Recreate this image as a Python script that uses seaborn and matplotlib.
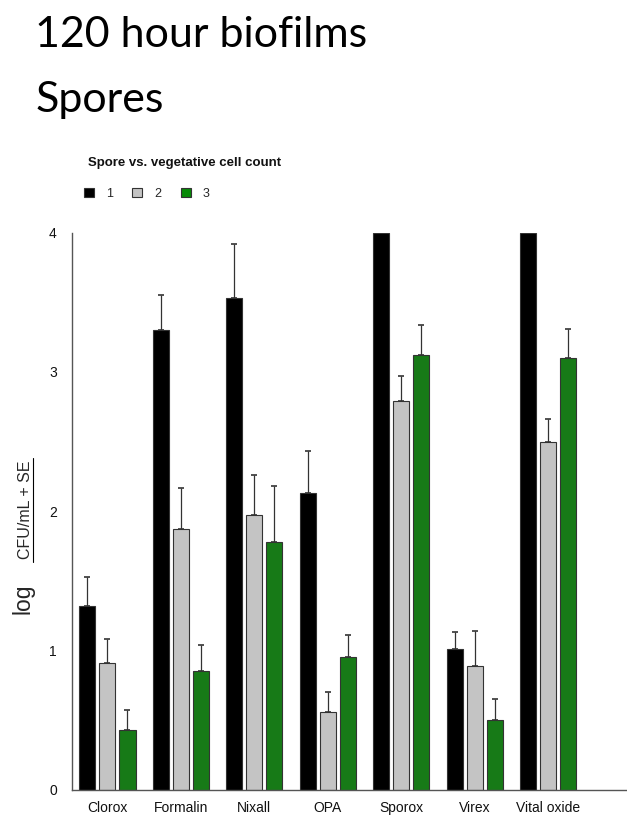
import pandas as pd
import matplotlib
matplotlib.use("Agg")
import matplotlib.pyplot as plt
import seaborn as sns
from matplotlib.patches import Patch
from matplotlib.lines import Line2D

# Values (log CFU/mL)
products = ['Clorox', 'Formalin', 'Nixall', 'OPA', 'Sporox', 'Virex', 'Vital oxide']
series = ['1', '2', '3']
means_1 = [1.32, 3.30, 3.53, 2.13, 4.00, 1.01, 4.00]
means_2 = [0.91, 1.87, 1.97, 0.56, 2.79, 0.89, 2.50]
means_3 = [0.43, 0.85, 1.78, 0.955, 3.12, 0.50, 3.10]
se_1 = [0.21, 0.25, 0.39, 0.30, 0.0, 0.12, 0.0]
se_2 = [0.17, 0.30, 0.29, 0.14, 0.18, 0.25, 0.16]
se_3 = [0.14, 0.19, 0.40, 0.16, 0.22, 0.15, 0.21]
colors = ['#000000', '#c4c4c4', '#078a07']

means = [means_1, means_2, means_3]
errs = [se_1, se_2, se_3]

rows = []
for s, vals in zip(series, means):
    for p, v in zip(products, vals):
        rows.append({'product': p, 'series': s, 'value': v})
df = pd.DataFrame(rows)

sns.set_style('white')
plt.rcParams['font.family'] = ['Liberation Sans', 'DejaVu Sans']

fig = plt.figure(figsize=(6.27, 8.16), dpi=100)
ax = fig.add_axes([0.115, 0.032, 0.885, 0.683])

sns.barplot(data=df, x='product', y='value', hue='series', palette=colors,
            width=0.82, gap=0.2, edgecolor='#333333', linewidth=0.8,
            errorbar=None, legend=False, ax=ax)

# upper-only error bars on each bar
for cont, err in zip(ax.containers, errs):
    for bar, e in zip(cont, err):
        if e <= 0:
            continue
        xc = bar.get_x() + bar.get_width() / 2
        top = bar.get_height()
        ax.errorbar(xc, top, yerr=[[0], [e]], fmt='none', ecolor='#333333',
                    elinewidth=0.9, capsize=2.5, capthick=1.2)

ax.set_ylim(0, 4)
ax.set_xlim(-0.48, 7.07)
ax.set_yticks([0, 1, 2, 3, 4])
ax.set_yticklabels(['0', '1', '2', '3', '4'])
ax.set_xlabel('')
ax.set_ylabel('')
sns.despine(ax=ax)
for sp in ['left', 'bottom']:
    ax.spines[sp].set_color('#555555')
    ax.spines[sp].set_linewidth(1.0)
ax.tick_params(axis='both', which='major', direction='out', length=5,
               width=1, color='#555555', labelsize=10, labelcolor='#111111')
ax.tick_params(axis='y', pad=6)
ax.tick_params(axis='x', pad=3)

# Titles (slide text)
fig.text(0.056, 0.9425, '120 hour biofilms', fontsize=31, family=['Lato', 'DejaVu Sans'],
         va='baseline', ha='left', color='#000000')
fig.text(0.056, 0.8627, 'Spores', fontsize=31, family=['Lato', 'DejaVu Sans'],
         va='baseline', ha='left', color='#000000')

# Y label: "log" + underlined "CFU/mL + SE"
fig.text(0.036, 0.266, 'log', rotation=90, fontsize=16.5, ha='center', va='center')
fig.text(0.041, 0.375, 'CFU/mL + SE', rotation=90, fontsize=11.5, ha='center', va='center')
fig.add_artist(Line2D([0.0534, 0.0534], [0.311, 0.439], transform=fig.transFigure,
                      color='#000000', linewidth=0.8))

# Legend title as plain text, swatches in a legend row below it
fig.text(0.140, 0.800, 'Spore vs. vegetative cell count', fontsize=9.5,
         fontweight='bold', ha='left', va='center', color='#111111')
handles = [Patch(facecolor=c, edgecolor='#333333', linewidth=0.8) for c in colors]
leg = fig.legend(handles, series, loc='center left', bbox_to_anchor=(0.134, 0.7625),
                 ncol=3, frameon=False, fontsize=9, handlelength=0.8, handleheight=0.8,
                 handletextpad=1.0, columnspacing=1.5, borderpad=0, borderaxespad=0)

fig.savefig('out.png', dpi=100)
